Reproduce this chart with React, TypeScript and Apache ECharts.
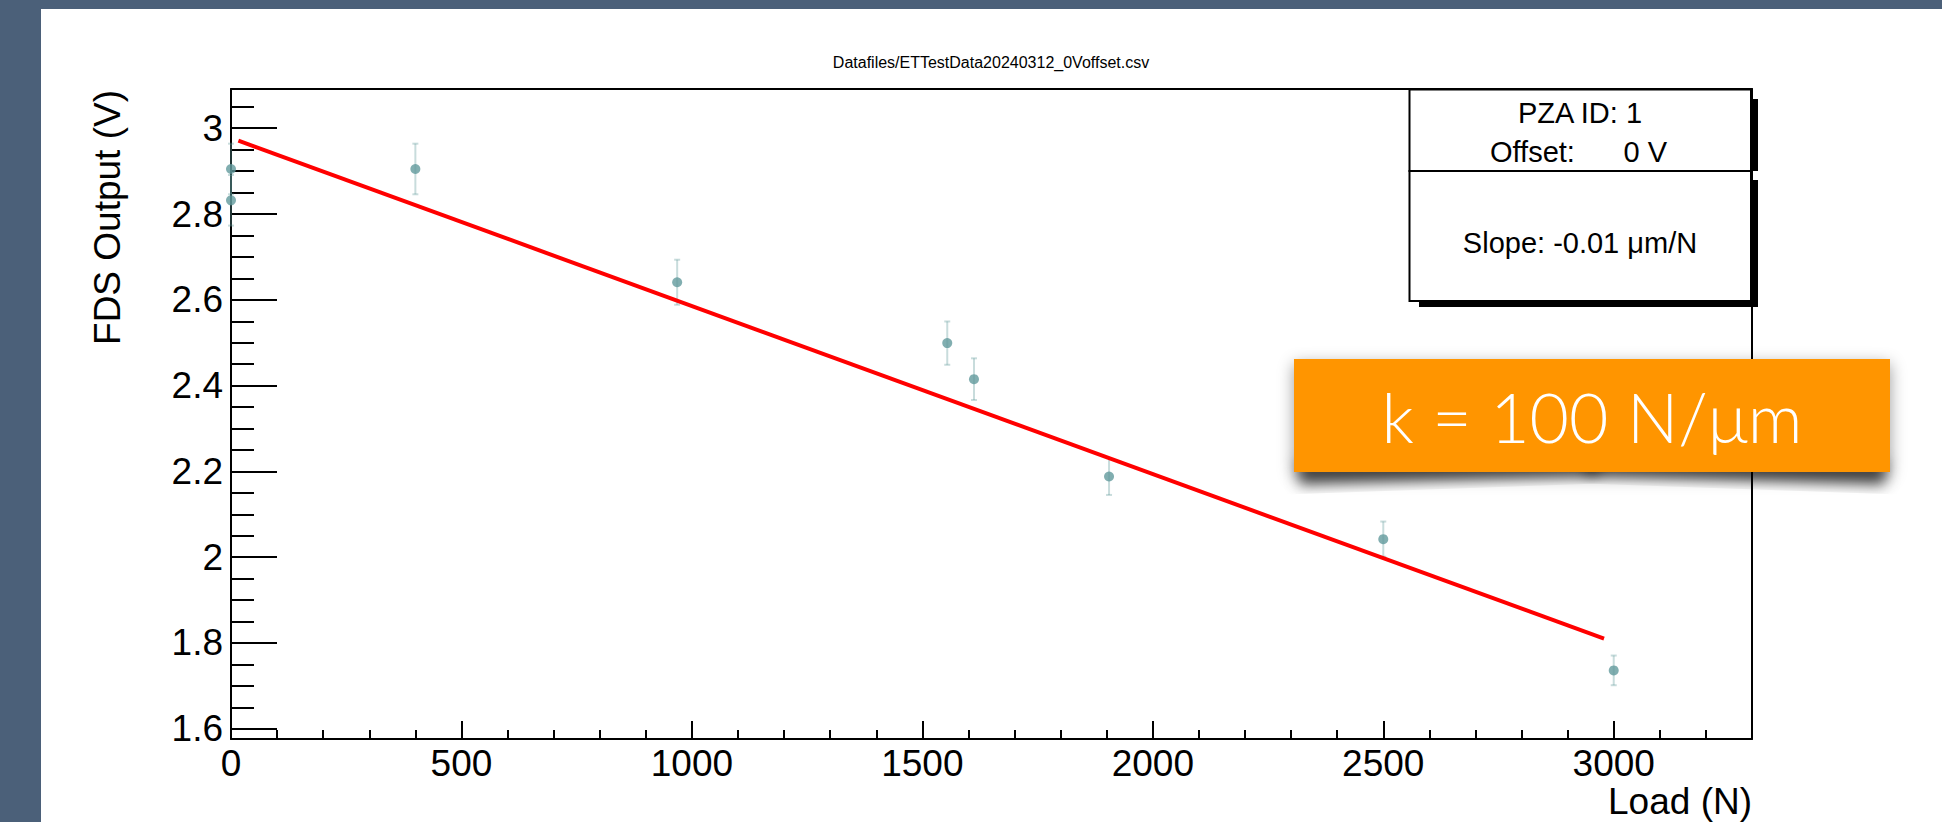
import React, { useEffect, useRef } from "react";
import * as echarts from "echarts";

// ---- data ----
const loads = [0, 0, 400, 968, 1554, 1612, 1905, 2500, 3000];
const outputs = [2.905, 2.832, 2.905, 2.641, 2.499, 2.415, 2.188, 2.042, 1.736];
const errors = [0.059, 0.059, 0.059, 0.0525, 0.0505, 0.0486, 0.043, 0.041, 0.0346];
const fitX = [16, 2979];
const fitY = [2.971, 1.81];

const xMajorTicks = [0, 500, 1000, 1500, 2000, 2500, 3000];
const xMinorTicks = [0, 100, 200, 300, 400, 500, 600, 700, 800, 900, 1000, 1100, 1200, 1300, 1400, 1500, 1600, 1700, 1800, 1900, 2000, 2100, 2200, 2300, 2400, 2500, 2600, 2700, 2800, 2900, 3000, 3100, 3200];
const yMajorTicks = [1.6, 1.8, 2.0, 2.2, 2.4, 2.6, 2.8, 3.0];
const yMinorTicks = [1.6, 1.65, 1.7, 1.75, 1.8, 1.85, 1.9, 1.95, 2.0, 2.05, 2.1, 2.15, 2.2, 2.25, 2.3, 2.35, 2.4, 2.45, 2.5, 2.55, 2.6, 2.65, 2.7, 2.75, 2.8, 2.85, 2.9, 2.95, 3.0, 3.05];

const X_MIN = 0;
const X_MAX = 3300;
const Y_MIN = 1.576;
const Y_MAX = 3.0915;

const titleText = "Datafiles/ETTestData20240312_0Voffset.csv";
const xTitle = "Load (N)";
const yTitle = "FDS Output (V)";
const statLine1 = "PZA ID: 1";
const statOffsetLabel = "Offset:";
const statOffsetValue = "0 V";
const statSlope = "Slope: -0.01 \u03bcm/N";
const calloutText = "k = 100 N/\u03bcm";

const FONT = "'Liberation Sans', Arial, Helvetica, sans-serif";
const BLACK = "#000000";
const MARKER = "#629a9c";
const ERRBAR = "rgba(98,154,156,0.35)";

function buildOption() {
  const lineStyle = { color: BLACK, width: 2 };
  const baseX = { type: "value", min: X_MIN, max: X_MAX, splitLine: { show: false } };
  const baseY = { type: "value", min: Y_MIN, max: Y_MAX, splitLine: { show: false } };

  const xAxis = [
    {
      ...baseX,
      position: "bottom",
      axisLine: { show: true, onZero: false, lineStyle },
      axisTick: { show: true, inside: true, length: 18, lineStyle, customValues: xMajorTicks },
      axisLabel: {
        show: true,
        customValues: xMajorTicks,
        fontSize: 37,
        fontFamily: FONT,
        color: BLACK,
        margin: 6,
        formatter: (v: number) => String(Math.round(v)),
      },
    },
    {
      ...baseX,
      position: "bottom",
      axisLine: { show: false, onZero: false },
      axisTick: { show: true, inside: true, length: 9, lineStyle, customValues: xMinorTicks },
      axisLabel: { show: false },
    },
    {
      ...baseX,
      position: "top",
      axisLine: { show: true, onZero: false, lineStyle },
      axisTick: { show: false },
      axisLabel: { show: false },
    },
  ];

  const yAxis = [
    {
      ...baseY,
      position: "left",
      axisLine: { show: true, onZero: false, lineStyle },
      axisTick: { show: true, inside: true, length: 46, lineStyle, customValues: yMajorTicks },
      axisLabel: {
        show: true,
        customValues: yMajorTicks,
        fontSize: 37,
        fontFamily: FONT,
        color: BLACK,
        margin: 8,
        formatter: (v: number) => String(Number(v.toFixed(2))),
      },
    },
    {
      ...baseY,
      position: "left",
      axisLine: { show: false, onZero: false },
      axisTick: { show: true, inside: true, length: 23, lineStyle, customValues: yMinorTicks },
      axisLabel: { show: false },
    },
    {
      ...baseY,
      position: "right",
      axisLine: { show: true, onZero: false, lineStyle },
      axisTick: { show: false },
      axisLabel: { show: false },
    },
  ];

  const pointData = loads.map((x, i) => [x, outputs[i]]);
  const errData = loads.map((x, i) => [x, outputs[i], errors[i]]);
  const fitData = fitX.map((x, i) => [x, fitY[i]]);

  const errStyle = { stroke: ERRBAR, lineWidth: 2 };

  return {
    animation: false,
    backgroundColor: "transparent",
    grid: { left: 231, top: 89, width: 1521, height: 650, containLabel: false },
    xAxis,
    yAxis,
    series: [
      {
        type: "custom",
        xAxisIndex: 0,
        yAxisIndex: 0,
        z: 3,
        clip: false,
        data: errData,
        renderItem: (params: any, api: any) => {
          const x = api.value(0);
          const y = api.value(1);
          const e = api.value(2);
          const top = api.coord([x, y + e]);
          const bot = api.coord([x, y - e]);
          const cap = 3;
          return {
            type: "group",
            children: [
              { type: "line", shape: { x1: top[0], y1: top[1], x2: bot[0], y2: bot[1] }, style: errStyle },
              { type: "line", shape: { x1: top[0] - cap, y1: top[1], x2: top[0] + cap, y2: top[1] }, style: errStyle },
              { type: "line", shape: { x1: bot[0] - cap, y1: bot[1], x2: bot[0] + cap, y2: bot[1] }, style: errStyle },
            ],
          };
        },
      },
      {
        type: "line",
        xAxisIndex: 0,
        yAxisIndex: 0,
        z: 4,
        data: fitData,
        symbol: "none",
        lineStyle: { color: "#ff0000", width: 4 },
        clip: false,
      },
      {
        type: "scatter",
        xAxisIndex: 0,
        yAxisIndex: 0,
        z: 5,
        clip: false,
        data: pointData,
        symbol: "circle",
        symbolSize: 10,
        itemStyle: { color: MARKER },
      },
    ],
    graphic: [
      {
        type: "text",
        x: 991,
        y: 62,
        z: 10,
        style: { text: titleText, fontSize: 16, fontFamily: FONT, fill: BLACK, align: "center", verticalAlign: "middle" },
      },
      {
        type: "text",
        x: 107,
        y: 90,
        rotation: Math.PI / 2,
        z: 10,
        style: { text: yTitle, fontSize: 37, fontFamily: FONT, fill: BLACK, align: "right", verticalAlign: "middle" },
      },
      {
        type: "text",
        x: 1752,
        y: 801,
        z: 10,
        style: { text: xTitle, fontSize: 37, fontFamily: FONT, fill: BLACK, align: "right", verticalAlign: "middle" },
      },
      // stats box: upper part
      { type: "rect", z: 20, shape: { x: 1751, y: 99, width: 7, height: 72 }, style: { fill: BLACK } },
      { type: "rect", z: 20, shape: { x: 1419, y: 172, width: 332, height: 5 }, style: { fill: "#6b6b6b" } },
      { type: "rect", z: 21, shape: { x: 1409.5, y: 89.5, width: 341.5, height: 81.5 }, style: { fill: "#ffffff", stroke: BLACK, lineWidth: 2 } },
      // stats box: lower part
      { type: "rect", z: 22, shape: { x: 1419, y: 180, width: 339, height: 127 }, style: { fill: BLACK } },
      { type: "rect", z: 23, shape: { x: 1409.5, y: 171, width: 341.5, height: 130 }, style: { fill: "#ffffff", stroke: BLACK, lineWidth: 2 } },
      {
        type: "text",
        x: 1580,
        y: 113,
        z: 24,
        style: { text: statLine1, fontSize: 29, fontFamily: FONT, fill: BLACK, align: "center", verticalAlign: "middle" },
      },
      {
        type: "text",
        x: 1490,
        y: 152,
        z: 24,
        style: { text: statOffsetLabel, fontSize: 29, fontFamily: FONT, fill: BLACK, align: "left", verticalAlign: "middle" },
      },
      {
        type: "text",
        x: 1667,
        y: 152,
        z: 24,
        style: { text: statOffsetValue, fontSize: 29, fontFamily: FONT, fill: BLACK, align: "right", verticalAlign: "middle" },
      },
      {
        type: "text",
        x: 1580,
        y: 243,
        z: 24,
        style: { text: statSlope, fontSize: 29, fontFamily: FONT, fill: BLACK, align: "center", verticalAlign: "middle" },
      },
      // orange callout: curled-corner shadows behind it
      {
        type: "rect",
        z: 29,
        x: 1298,
        y: 446,
        rotation: 0.035,
        shape: { x: 0, y: 0, width: 300, height: 24 },
        style: { fill: "rgba(0,0,0,0.75)", shadowBlur: 14, shadowColor: "rgba(0,0,0,0.85)", shadowOffsetY: 15 },
      },
      {
        type: "rect",
        z: 29,
        x: 1886,
        y: 446,
        rotation: -0.035,
        shape: { x: -300, y: 0, width: 300, height: 24 },
        style: { fill: "rgba(0,0,0,0.75)", shadowBlur: 14, shadowColor: "rgba(0,0,0,0.85)", shadowOffsetY: 15 },
      },
      {
        type: "rect",
        z: 30,
        shape: { x: 1294, y: 359, width: 596, height: 113 },
        style: {
          fill: "#ff9500",
          shadowBlur: 16,
          shadowColor: "rgba(0,0,0,0.4)",
          shadowOffsetX: 0,
          shadowOffsetY: 5,
        },
      },
      {
        type: "text",
        x: 1592,
        y: 416,
        z: 31,
        style: {
          text: calloutText,
          fontSize: 68,
          fontFamily: "Lato, 'Open Sans', sans-serif",
          fontWeight: 300,
          fill: "#ffffff",
          align: "center",
          verticalAlign: "middle",
        },
      },
    ],
  };
}

export default function App() {
  const ref = useRef<HTMLDivElement>(null);
  useEffect(() => {
    document.body.style.margin = "0";
    if (!ref.current) return;
    const chart = echarts.init(ref.current, undefined, { renderer: "svg" });
    chart.setOption(buildOption() as any);
    return () => {
      chart.dispose();
    };
  }, []);
  return (
    <div style={{ position: "fixed", left: 0, top: 0, width: 1942, height: 822, background: "#4b6079", overflow: "hidden" }}>
      <div style={{ position: "absolute", left: 41, top: 9, right: 0, bottom: 0, background: "#ffffff" }} />
      <div ref={ref} style={{ position: "absolute", left: 0, top: 0, width: 1942, height: 822 }} />
    </div>
  );
}
